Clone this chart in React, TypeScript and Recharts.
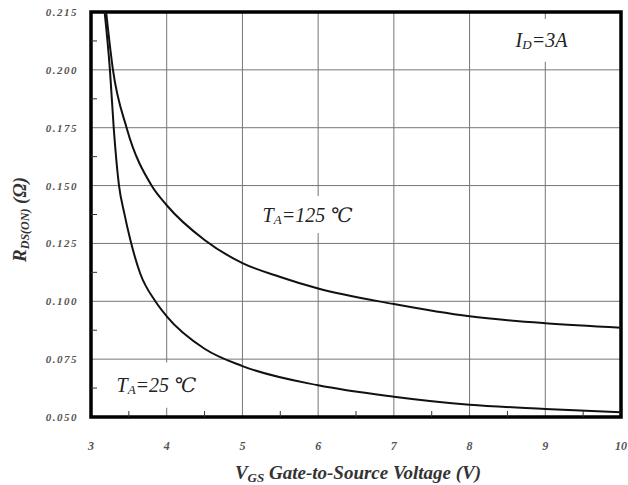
import React from "react";
import { LineChart, Line, XAxis, YAxis, CartesianGrid, ReferenceArea } from "recharts";

// R_DS(on) vs V_GS
const vgs25 = [3.18, 3.25, 3.3, 3.37, 3.44, 3.52, 3.65, 3.85, 4.0, 4.5, 5.0, 6.0, 7.0, 8.0, 9.0, 10.0];
const rds25 = [0.225, 0.2, 0.175, 0.15, 0.138, 0.1265, 0.112, 0.1, 0.0935, 0.0795, 0.072, 0.0637, 0.0588, 0.0553, 0.0535, 0.052];

const vgs125 = [3.2, 3.29, 3.47, 3.8, 4.0, 4.5, 5.0, 5.5, 6.0, 7.0, 8.0, 9.0, 10.0];
const rds125 = [0.225, 0.2, 0.175, 0.15, 0.1415, 0.1265, 0.1165, 0.1105, 0.1055, 0.0988, 0.0935, 0.0905, 0.0886];

const xMajor = [3, 4, 5, 6, 7, 8, 9, 10];
const xMinor = [3.5, 4.5, 5.5, 6.5, 7.5, 8.5, 9.5];
const yMajor = [0.05, 0.075, 0.1, 0.125, 0.15, 0.175, 0.2, 0.225];
const yLabels = ["0.050", "0.075", "0.100", "0.125", "0.150", "0.175", "0.200", "0.215"];
const yMinor = [0.0625, 0.0875, 0.1125, 0.1375, 0.1625, 0.1875, 0.2125];

const data25 = vgs25.map((v, i) => ({ v, r: rds25[i] }));
const data125 = vgs125.map((v, i) => ({ v, r: rds125[i] }));

const serif = "Liberation Serif, DejaVu Serif, serif";

const isIn = (arr: number[], val: number) => arr.some((a) => Math.abs(a - val) < 1e-6);

function XTick(props: any) {
  const { x, y, payload } = props;
  const val = payload.value;
  if (isIn(xMajor, val)) {
    return (
      <text x={x} y={y + 33} textAnchor="middle" style={{ fontFamily: serif }} fontStyle="italic"
        fontWeight="bold" fontSize={12} fill="#555">
        {String(val)}
      </text>
    );
  }
  return <line x1={x} x2={x} y1={y} y2={y - 6} stroke="#333" strokeWidth={1} />;
}

function YTick(props: any) {
  const { x, y, payload } = props;
  const val = payload.value;
  const idx = yMajor.findIndex((a) => Math.abs(a - val) < 1e-6);
  if (idx >= 0) {
    return (
      <text x={x - 13} y={y} textAnchor="end" dominantBaseline="central" style={{ fontFamily: serif }}
        fontStyle="italic" fontWeight="bold" fontSize={11} letterSpacing={1.5} fill="#555">
        {yLabels[idx]}
      </text>
    );
  }
  return <line x1={x} x2={x + 6} y1={y} y2={y} stroke="#333" strokeWidth={1} />;
}

const XTitle = (props: any) => {
  const vb = props.viewBox;
  return (
    <text x={vb.x + vb.width / 2 + 2} y={479} textAnchor="middle" style={{ fontFamily: serif }}
      fontStyle="italic" fontWeight="bold" fontSize={19} fill="#333">
      V<tspan fontSize={13} dy={3}>GS</tspan>
      <tspan dy={-3}> Gate-to-Source Voltage (V)</tspan>
    </text>
  );
};

const YTitle = (props: any) => {
  const vb = props.viewBox;
  const cy = vb.y + vb.height / 2 + 5;
  return (
    <text x={26} y={cy} transform={`rotate(-90, 26, ${cy})`} textAnchor="middle"
      style={{ fontFamily: serif }} fontStyle="italic" fontWeight="bold" fontSize={19} fill="#333">
      R<tspan fontSize={12} dy={3}>DS(ON)</tspan>
      <tspan dy={-3}> (Ω)</tspan>
    </text>
  );
};

const note = (main: string, sub: string, rest: string) => (props: any) => {
  const vb = props.viewBox;
  const cx = vb.x + vb.width / 2;
  const cy = vb.y + vb.height / 2;
  return (
    <text x={cx} y={cy} textAnchor="middle" dominantBaseline="central" style={{ fontFamily: serif }}
      fontStyle="italic" fontSize={20} fill="#222">
      {main}
      <tspan fontSize={13} dy={4}>{sub}</tspan>
      <tspan dy={-4}>{rest}</tspan>
    </text>
  );
};

export default function App() {
  return (
    <div style={{ position: "absolute", left: 0, top: 0, background: "#fff" }}>
      <LineChart width={628} height={485} margin={{ top: 12, right: 7, bottom: 0, left: 0 }}>
        <CartesianGrid verticalValues={xMajor} horizontalValues={yMajor} stroke="#74747c" strokeWidth={1} />
        <XAxis
          type="number"
          dataKey="v"
          domain={[3, 10]}
          ticks={[...xMajor, ...xMinor].sort((a, b) => a - b)}
          interval={0}
          height={68}
          tickSize={0}
          tickMargin={0}
          tickLine={false}
          axisLine={false}
          tick={XTick}
          label={{ content: XTitle }}
        />
        <YAxis
          type="number"
          dataKey="r"
          domain={[0.05, 0.225]}
          ticks={[...yMajor, ...yMinor].sort((a, b) => a - b)}
          interval={0}
          width={91}
          tickSize={0}
          tickMargin={0}
          tickLine={false}
          axisLine={false}
          tick={YTick}
          label={{ content: YTitle }}
        />
        <ReferenceArea x1={8.6} x2={9.3} y1={0.2035} y2={0.222} fill="#fff" fillOpacity={1} stroke="none"
          label={{ content: note("I", "D", "=3A") }} />
        <ReferenceArea x1={5.17} x2={6.55} y1={0.1295} y2={0.1455} fill="#fff" fillOpacity={1} stroke="none"
          label={{ content: note("T", "A", "=125 ℃") }} />
        <ReferenceArea x1={3.28} x2={4.45} y1={0.054} y2={0.0735} fill="#fff" fillOpacity={1} stroke="none"
          label={{ content: note("T", "A", "=25 ℃") }} />
        <Line data={data125} dataKey="r" type="monotone" stroke="#111" strokeWidth={2}
          dot={false} isAnimationActive={false} />
        <Line data={data25} dataKey="r" type="monotone" stroke="#111" strokeWidth={2}
          dot={false} isAnimationActive={false} />
        <ReferenceArea x1={3} x2={10} y1={0.05} y2={0.225} fill="none" stroke="#000" strokeWidth={3.5} />
      </LineChart>
    </div>
  );
}
